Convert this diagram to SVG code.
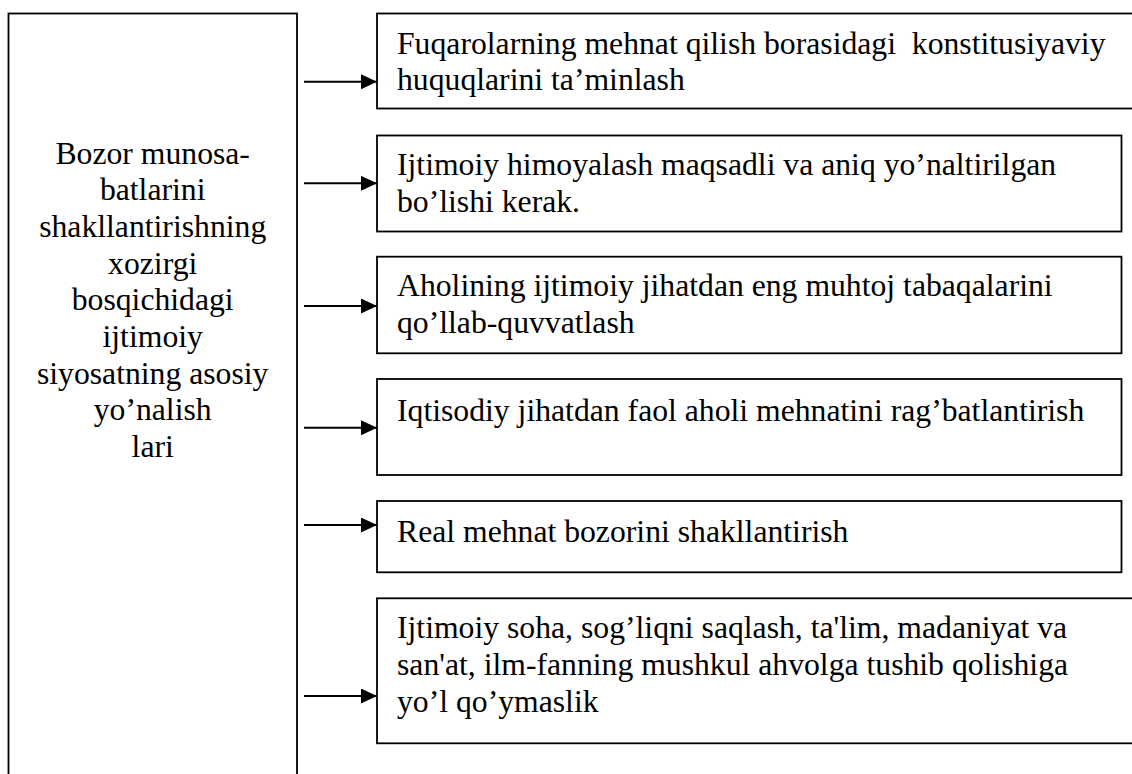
<svg xmlns="http://www.w3.org/2000/svg" width="1132" height="774" viewBox="0 0 1132 774">
<style>
.box{fill:#fff;stroke:#000;stroke-width:1.8}
.t{font-family:"Liberation Serif","Times New Roman",serif;font-size:31.7px;fill:#000;white-space:pre}
.c{text-anchor:middle}
.con line{stroke:#000;stroke-width:2}
</style>
<defs>
<marker id="ah" markerUnits="userSpaceOnUse" markerWidth="16" markerHeight="16" refX="16" refY="7.5" orient="auto">
<path d="M0,0 L16,7.5 L0,15 Z" fill="#000"/>
</marker>
</defs>
<rect width="1132" height="774" fill="#fff"/>
<g id="main">
<rect class="box" x="8.5" y="13.5" width="288.5" height="800"/>
<text class="t c" x="152.7" y="163.5">Bozor munosa-</text>
<text class="t c" x="152.7" y="200.2">batlarini</text>
<text class="t c" x="152.7" y="236.9">shakllantirishning</text>
<text class="t c" x="152.7" y="273.6">xozirgi</text>
<text class="t c" x="152.7" y="310.3">bosqichidagi</text>
<text class="t c" x="152.7" y="347">ijtimoiy</text>
<text class="t c" x="152.7" y="383.7">siyosatning asosiy</text>
<text class="t c" x="152.7" y="420.4">yo’nalish</text>
<text class="t c" x="152.7" y="457.1">lari</text>
</g>
<g id="n1">
<rect class="box" x="377" y="13.5" width="780" height="95"/>
<text class="t" x="397" y="53.5">Fuqarolarning mehnat qilish borasidagi  konstitusiyaviy</text>
<text class="t" x="397" y="90">huquqlarini ta’minlash</text>
</g>
<g id="n2">
<rect class="box" x="377" y="135.5" width="744.5" height="96"/>
<text class="t" x="397" y="175">Ijtimoiy himoyalash maqsadli va aniq yo’naltirilgan</text>
<text class="t" x="397" y="211.6">bo’lishi kerak.</text>
</g>
<g id="n3">
<rect class="box" x="377" y="256.7" width="744.5" height="96.6"/>
<text class="t" x="397" y="295.5">Aholining ijtimoiy jihatdan eng muhtoj tabaqalarini</text>
<text class="t" x="397" y="332.5">qo’llab-quvvatlash</text>
</g>
<g id="n4">
<rect class="box" x="377" y="379" width="744.5" height="96"/>
<text class="t" x="397" y="420.5">Iqtisodiy jihatdan faol aholi mehnatini rag’batlantirish</text>
</g>
<g id="n5">
<rect class="box" x="377" y="501" width="744.5" height="71.3"/>
<text class="t" x="397" y="541.5">Real mehnat bozorini shakllantirish</text>
</g>
<g id="n6">
<rect class="box" x="377" y="598.3" width="780" height="145"/>
<text class="t" x="397" y="638.3">Ijtimoiy soha, sog’liqni saqlash, ta'lim, madaniyat va</text>
<text class="t" x="397" y="675">san'at, ilm-fanning mushkul ahvolga tushib qolishiga</text>
<text class="t" x="397" y="711.6">yo’l qo’ymaslik</text>
</g>
<g id="connectors" class="con">
<line x1="304" y1="81.7" x2="377" y2="81.7" marker-end="url(#ah)"/>
<line x1="304" y1="183.3" x2="377" y2="183.3" marker-end="url(#ah)"/>
<line x1="304" y1="306" x2="377" y2="306" marker-end="url(#ah)"/>
<line x1="304" y1="427.7" x2="377" y2="427.7" marker-end="url(#ah)"/>
<line x1="304" y1="525" x2="377" y2="525" marker-end="url(#ah)"/>
<line x1="304" y1="696" x2="377" y2="696" marker-end="url(#ah)"/>
</g>
</svg>
